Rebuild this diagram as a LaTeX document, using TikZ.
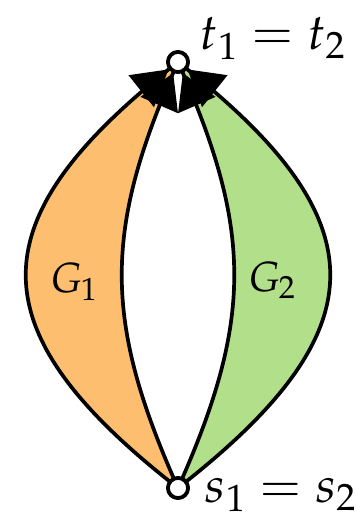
\documentclass[tikz,border=0pt]{standalone}
\usepackage{mathpazo}
\usepackage{tikz}
\usetikzlibrary{arrows.meta, backgrounds, decorations.markings}
\definecolor{lensorange}{HTML}{FDBF6F}
\definecolor{lensgreen}{HTML}{B2DF8A}

\begin{document}
\begin{tikzpicture}[
  x=0.02cm, y=-0.02cm,
  terminal/.style={draw, circle, fill=white, line width=2.1pt, minimum size=0.4cm, inner sep=0pt},
  edge/.style={line width=2.1pt, postaction={decorate},
    decoration={markings, mark=at position -0.24cm with {\arrow{Triangle[length=0.7cm, width=0.8cm]}}}},
  lbl/.style={font=\fontsize{24}{28}\selectfont, inner sep=0pt},
  endlbl/.style={font=\fontsize{28.5}{32}\selectfont, inner sep=0pt, anchor=base west}
]
\useasboundingbox (0,0) rectangle (355,513);
\node[terminal] (t) at (178,62) {};
\node[terminal] (s) at (178,488) {};

% the two lenses
\begin{scope}[on background layer]
\fill[lensorange] (s.center) .. controls (-25,330) and (-25,220) .. (t.center)
  .. controls (103,230) and (103,320) .. (s.center);
\fill[lensgreen] (s.center) .. controls (253,320) and (253,230) .. (t.center)
  .. controls (381,220) and (381,330) .. (s.center);
\end{scope}

\draw[edge] (s.center) .. controls (-25,330) and (-25,220) .. (t.center);
\draw[edge] (s.center) .. controls (103,320) and (103,230) .. (t.center);
\draw[edge] (s.center) .. controls (253,320) and (253,230) .. (t.center);
\draw[edge] (s.center) .. controls (381,330) and (381,220) .. (t.center);
\node[terminal] at (t) {};
\node[terminal] at (s) {};

\node[endlbl] (tlabel) at (200,50) {$t_1 = t_2$};
\node[endlbl] (slabel) at (205,502) {$s_1 = s_2$};
\node[lbl] (g1) at (74,282) {$G_1$};
\node[lbl] (g2) at (272,280) {$G_2$};
\end{tikzpicture}
\end{document}
